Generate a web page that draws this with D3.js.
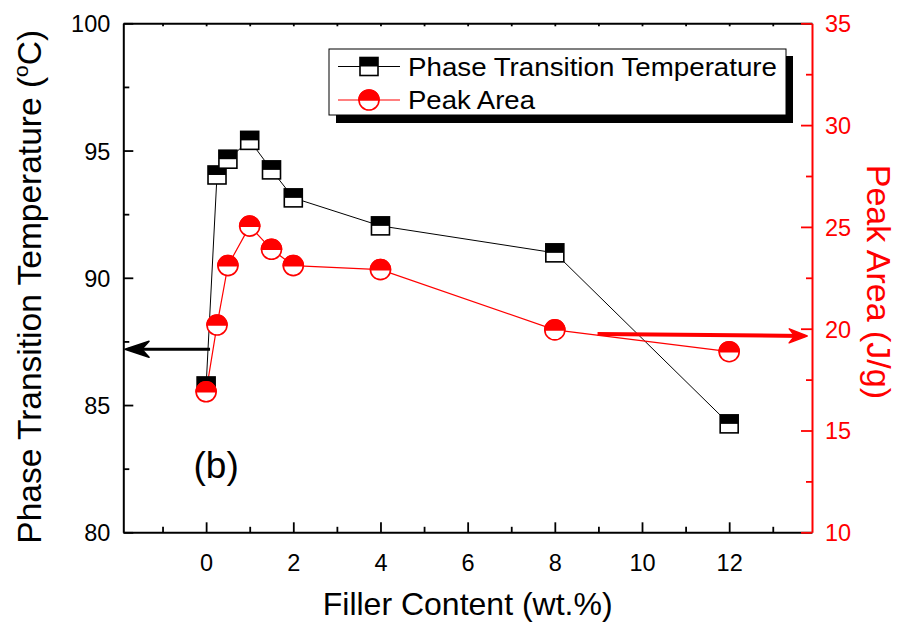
<!DOCTYPE html>
<html><head><meta charset="utf-8">
<script src="https://cdn.jsdelivr.net/npm/d3@7"></script>
<style>body{margin:0;background:#fff}svg{display:block;font-family:"Liberation Sans",Arial,sans-serif}</style>
</head><body><svg id="c" width="904" height="627"></svg>
<script>
const fillerContent = [0, 0.25, 0.5, 1, 1.5, 2, 4, 8, 12];
const transitionTemp = [85.75, 94.04, 94.66, 95.4, 94.24, 93.14, 92.04, 90.98, 84.26];
const peakArea = [16.9, 20.18, 23.1, 25.04, 23.9, 23.1, 22.9, 19.94, 18.87];
const xTicks = [0, 2, 4, 6, 8, 10, 12];
const xMinor = [-1, 1, 3, 5, 7, 9, 11, 13];
const yLeftTicks = [80, 85, 90, 95, 100];
const yLeftMinor = [82.5, 87.5, 92.5, 97.5];
const yRightTicks = [10, 15, 20, 25, 30, 35];
const yRightMinor = [12.5, 17.5, 22.5, 27.5, 32.5];
const seriesNames = ["Phase Transition Temperature", "Peak Area"];
const xTitle = "Filler Content (wt.%)";
const yRightTitle = "Peak Area (J/g)";
const panelLabel = "(b)";
// annotation arrows (data coordinates)
const leftArrow = {x0: 0.09, x1: -1.86, y: 87.19};
const rightArrow = {x0: 8.98, x1: 13.79, y0: 19.74, y1: 19.64};

const svg = d3.select("#c");
const L = 123.3, R = 812, T = 23.3, B = 532.3;
const x = d3.scaleLinear().domain([-1.9, 13.9]).range([L, R]);
const yL = d3.scaleLinear().domain([80, 100]).range([B, T]);
const yR = d3.scaleLinear().domain([10, 35]).range([B, T]);
const RED = "#ff0000";

function styleAxis(g, color, w) {
  g.select(".domain").attr("stroke", color).attr("stroke-width", w);
  g.selectAll(".tick line").attr("stroke", color).attr("stroke-width", 1.8);
  g.selectAll(".tick text").attr("fill", color).attr("font-size", 23.5).attr("font-family", '"Liberation Sans",Arial,sans-serif');
}
function minor(g, axisGen) { g.call(axisGen); g.select(".domain").remove(); g.selectAll("text").remove(); }

// bottom
svg.append("g").attr("transform", `translate(0,${B})`).call(g => minor(g, d3.axisBottom(x).tickValues(xMinor).tickSize(-5.5))).call(g => g.selectAll("line").attr("stroke", "#000").attr("stroke-width", 1.8));
const gB = svg.append("g").attr("transform", `translate(0,${B})`)
  .call(d3.axisBottom(x).tickValues(xTicks).tickSize(-10).tickSizeOuter(0).tickPadding(22).tickFormat(d3.format("d")));
styleAxis(gB, "#000", 2);
// top
svg.append("g").attr("transform", `translate(0,${T})`)
  .call(d3.axisTop(x).tickValues(xTicks.concat(xMinor)).tickSize(-3).tickSizeOuter(0).tickFormat(""))
  .call(g => styleAxis(g, "#000", 2));
// left
svg.append("g").attr("transform", `translate(${L},0)`).call(g => minor(g, d3.axisLeft(yL).tickValues(yLeftMinor).tickSize(-6))).call(g => g.selectAll("line").attr("stroke", "#000").attr("stroke-width", 1.8));
const gL = svg.append("g").attr("transform", `translate(${L},0)`)
  .call(d3.axisLeft(yL).tickValues(yLeftTicks).tickSize(-10).tickSizeOuter(0).tickPadding(13).tickFormat(d3.format("d")));
styleAxis(gL, "#000", 2);
gL.selectAll(".tick text").attr("dy", "0.36em");
// right
svg.append("g").attr("transform", `translate(${R},0)`).call(g => minor(g, d3.axisRight(yR).tickValues(yRightMinor).tickSize(-6))).call(g => g.selectAll("line").attr("stroke", RED).attr("stroke-width", 1.8));
const gR = svg.append("g").attr("transform", `translate(${R},0)`)
  .call(d3.axisRight(yR).tickValues(yRightTicks).tickSize(-11).tickSizeOuter(0).tickPadding(13).tickFormat(d3.format("d")));
styleAxis(gR, RED, 2);
gR.selectAll(".tick text").attr("dy", "0.36em");

// lines
const tData = fillerContent.map((v, i) => [v, transitionTemp[i]]);
const pData = fillerContent.map((v, i) => [v, peakArea[i]]);
svg.append("path").datum(tData).attr("fill", "none").attr("stroke", "#000").attr("stroke-width", 1)
  .attr("d", d3.line().x(d => x(d[0])).y(d => yL(d[1])));
svg.append("path").datum(pData).attr("fill", "none").attr("stroke", RED).attr("stroke-width", 1.2)
  .attr("d", d3.line().x(d => x(d[0])).y(d => yR(d[1])));

const S = 18, CR = 10;
function square(g, cx, cy) {
  g.append("rect").attr("x", cx - S/2).attr("y", cy - S/2).attr("width", S).attr("height", S).attr("fill", "#fff").attr("stroke", "#000").attr("stroke-width", 1.6);
  g.append("rect").attr("x", cx - S/2).attr("y", cy - S/2).attr("width", S).attr("height", S/2).attr("fill", "#000");
}
function circ(g, cx, cy) {
  g.append("circle").attr("cx", cx).attr("cy", cy).attr("r", CR).attr("fill", "#fff").attr("stroke", RED).attr("stroke-width", 1.6);
  g.append("path").attr("d", `M${cx - CR},${cy} A${CR},${CR} 0 0 1 ${cx + CR},${cy} Z`).attr("fill", RED).attr("stroke", RED).attr("stroke-width", 1.6);
}
const gm = svg.append("g");
tData.forEach(d => square(gm, x(d[0]), yL(d[1])));
pData.forEach(d => circ(gm, x(d[0]), yR(d[1])));

// arrows
function arrow(x0, y0, x1, y1, color, w, hl, hw) {
  const ang = Math.atan2(y1 - y0, x1 - x0);
  svg.append("line").attr("x1", x0).attr("y1", y0).attr("x2", x1 - Math.cos(ang) * 3).attr("y2", y1 - Math.sin(ang) * 3)
    .attr("stroke", color).attr("stroke-width", w);
  const bx = x1 - Math.cos(ang) * hl, by = y1 - Math.sin(ang) * hl;
  const px = -Math.sin(ang) * hw, py = Math.cos(ang) * hw;
  const mx = x1 - Math.cos(ang) * hl * 0.7, my = y1 - Math.sin(ang) * hl * 0.7;
  svg.append("path").attr("d", `M${bx + px},${by + py} L${x1},${y1} L${bx - px},${by - py} L${mx},${my} Z`)
    .attr("fill", color).attr("stroke", color).attr("stroke-width", 1.5).attr("stroke-linejoin", "round");
}
arrow(x(leftArrow.x0), yL(leftArrow.y), x(leftArrow.x1), yL(leftArrow.y), "#000", 3, 24, 8);
arrow(x(rightArrow.x0), yR(rightArrow.y0), x(rightArrow.x1), yR(rightArrow.y1), RED, 4, 18, 7);

// legend
const lg = svg.append("g");
lg.append("rect").attr("x", 336).attr("y", 56).attr("width", 457).attr("height", 67).attr("fill", "#000");
lg.append("rect").attr("x", 329).attr("y", 49).attr("width", 457).attr("height", 66).attr("fill", "#fff").attr("stroke", "#000").attr("stroke-width", 1);
[[66.5, "#000"], [100, RED]].forEach(([yy, col], i) => {
  lg.append("line").attr("x1", 338).attr("x2", 400).attr("y1", yy).attr("y2", yy).attr("stroke", col).attr("stroke-width", 1.2);
  if (i === 0) square(lg, 369, yy); else circ(lg, 369, yy);
  const t = lg.append("text").attr("x", 408).attr("y", yy + 9).attr("font-size", 26).attr("fill", "#000").text(seriesNames[i]);
  if (i === 0) t.attr("textLength", 369).attr("lengthAdjust", "spacingAndGlyphs");
  else t.attr("textLength", 127).attr("lengthAdjust", "spacingAndGlyphs");
});

// titles
svg.append("text").attr("x", x(6)).attr("y", 615).attr("text-anchor", "middle").attr("font-size", 32).text(xTitle);
const yt = svg.append("text").attr("transform", `translate(41,${(T + B) / 2 + 9}) rotate(-90)`).attr("text-anchor", "middle").attr("font-size", 33.5);
yt.append("tspan").text("Phase Transition Temperature (");
yt.append("tspan").attr("font-size", 21).attr("dy", -13).text("o");
yt.append("tspan").attr("dy", 13).text("C)");
svg.append("text").attr("transform", `translate(867,${yR(22.3)}) rotate(90)`).attr("text-anchor", "middle").attr("font-size", 34).attr("fill", RED).text(yRightTitle);
svg.append("text").attr("x", x(0.23)).attr("y", yL(82.13)).attr("text-anchor", "middle").attr("font-size", 37).text(panelLabel);
</script></body></html>
